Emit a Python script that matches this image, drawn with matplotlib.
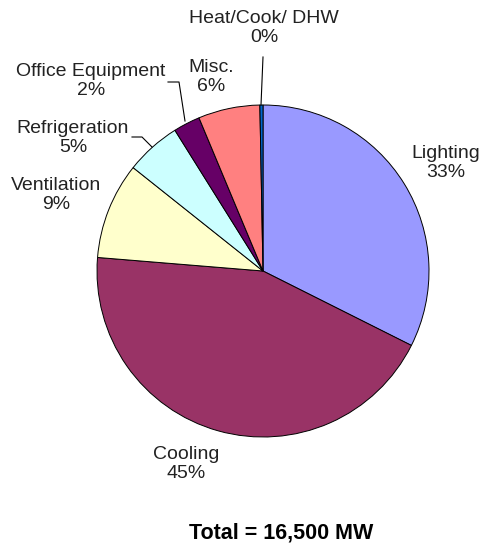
import matplotlib
matplotlib.use("Agg")
import matplotlib.pyplot as plt

plt.rcParams["font.family"] = ["Liberation Sans", "DejaVu Sans"]

# end-use shares (percent), clockwise from 12 o'clock
categories = ["Lighting", "Cooling", "Ventilation", "Refrigeration",
              "Office Equipment", "Misc.", "Heat/Cook/ DHW"]
shares = [32.4, 43.9, 9.4, 5.4, 2.6, 6.0, 0.3]
shown_pct = ["33%", "45%", "9%", "5%", "2%", "6%", "0%"]
colors = ["#9999FF", "#993366", "#FFFFCC", "#CCFFFF",
          "#660066", "#FF8080", "#0066CC"]
total_label = "Total = 16,500 MW"

W, H = 480, 548
fig = plt.figure(figsize=(W / 100, H / 100), dpi=100)
ax = fig.add_axes([0, 0, 1, 1])

def Y(y):
    # image pixel row -> data y
    return H - y

ax.pie(shares, colors=colors, startangle=90, counterclock=False,
       center=(263, Y(271)), radius=166, frame=True,
       wedgeprops=dict(edgecolor="black", linewidth=0.7))
ax.set_xlim(0, W)
ax.set_ylim(0, H)
ax.set_aspect("auto")
ax.axis("off")

# label block centres (pixels)
label_pos = {
    "Lighting": (446, 163),
    "Cooling": (186, 464),
    "Ventilation": (56, 195),
    "Refrigeration": (73, 138),
    "Office Equipment": (91, 81),
    "Misc.": (211, 77),
    "Heat/Cook/ DHW": (264, 28),
}
for name, pct in zip(categories, shown_pct):
    x, y = label_pos[name]
    ax.text(x, Y(y), name + "\n" + pct, ha="center", va="center",
            fontsize=14, color="#222222", linespacing=1.15)

# leader lines
leaders = [
    [(168, 82), (179, 82), (185, 121)],
    [(132, 137), (142, 137), (152, 147)],
    [(263, 57), (261, 105)],
]
for pts in leaders:
    ax.plot([p[0] for p in pts], [Y(p[1]) for p in pts],
            color="black", linewidth=0.8)

ax.text(281, Y(533), total_label, ha="center", va="center",
        fontsize=15.5, fontweight="bold", color="black")

fig.savefig("out.png", dpi=100)
